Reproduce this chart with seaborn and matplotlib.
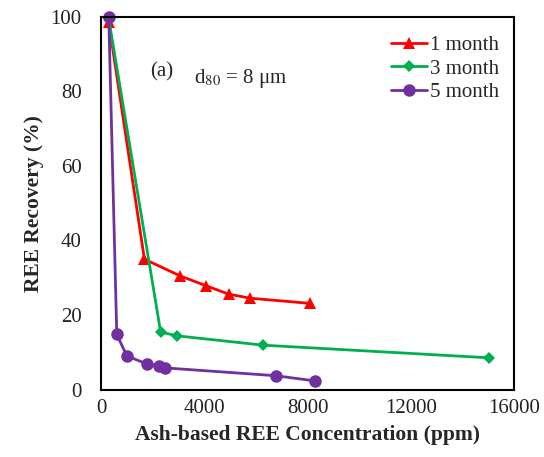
import matplotlib
matplotlib.use('Agg')
import matplotlib.pyplot as plt
import seaborn as sns
import pandas as pd

# data
x_1m = [300, 1680, 3060, 4050, 4940, 5780, 8110]
y_1m = [98.5, 35.0, 30.5, 27.9, 25.6, 24.5, 23.1]
x_3m = [300, 2310, 2950, 6280, 15040]
y_3m = [99.5, 15.4, 14.4, 11.9, 8.5]
x_5m = [300, 610, 1000, 1800, 2260, 2480, 6770, 8290]
y_5m = [100, 14.8, 9.0, 6.8, 6.3, 5.8, 3.7, 2.3]

sns.set_style('white')
plt.rcParams['font.family'] = ['Liberation Serif', 'DejaVu Serif']
plt.rcParams['mathtext.fontset'] = 'stix'

fig = plt.figure(figsize=(5.44, 4.57), dpi=100)
ax = fig.add_axes([0.1857, 0.1477, 0.7593, 0.8153])

series = [
    ('1 month', x_1m, y_1m, '#FF0000', '^', 8.5),
    ('3 month', x_3m, y_3m, '#00B050', 'D', 6.5),
    ('5 month', x_5m, y_5m, '#7030A0', 'o', 9),
]
for name, xs, ys, col, mk, ms in series:
    df = pd.DataFrame({'x': xs, 'y': ys})
    sns.lineplot(data=df, x='x', y='y', ax=ax, sort=False, color=col, marker=mk,
                 markersize=ms, markeredgewidth=0, linewidth=2, label=name, clip_on=False)

ax.set_xlim(0, 16000)
ax.set_ylim(0, 100)
ax.set_xticks([0, 4000, 8000, 12000, 16000])
ax.set_yticks([0, 20, 40, 60, 80, 100])
ax.tick_params(direction='in', length=5, width=1.2, labelsize=15, color='black',
               labelcolor='#222222')
ax.tick_params(axis='y', pad=14)
ax.tick_params(axis='x', pad=7)
for s in ax.spines.values():
    s.set_color('black')
    s.set_linewidth(1.5)

ax.set_xlabel('Ash-based REE Concentration (ppm)', fontsize=15.5, fontweight='bold', labelpad=5)
ax.set_ylabel('REE Recovery (%)', fontsize=15.5, fontweight='bold', labelpad=5)

ax.text(0.12, 0.853, '(a)', transform=ax.transAxes, fontsize=15, ha='left', va='center')
ax.text(0.226, 0.835, 'd$_{80}$ = 8 μm', transform=ax.transAxes, fontsize=15,
        ha='left', va='center')

ax.legend(loc='upper right', bbox_to_anchor=(0.999, 0.99), frameon=False, fontsize=15,
          handlelength=1.7, handletextpad=0.15, labelspacing=0.2, borderaxespad=0.3)

fig.savefig('out.png', dpi=100)
